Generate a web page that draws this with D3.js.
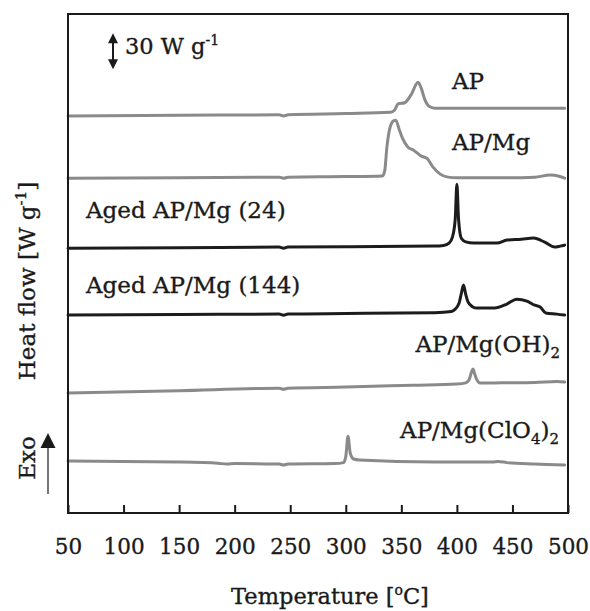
<!DOCTYPE html>
<html>
<head>
<meta charset="utf-8">
<script src="https://cdn.jsdelivr.net/npm/d3@7"></script>
<style>
  body { margin: 0; background: #fff; }
  text { font-family: "DejaVu Serif", serif; fill: #1a1a1a; stroke: #1a1a1a; stroke-width: 0.35px; }
</style>
</head>
<body>
<div id="vis"></div>
<script>
const FRAME_WIDTH = 590;
const FRAME_HEIGHT = 611;
const MARGINS = {left: 68, right: 22, top: 14, bottom: 98};

// temperature ticks
const X_TICKS = [50, 100, 150, 200, 250, 300, 350, 400, 450, 500];

// DSC curves: [temperature (oC), heat flow (W/g, stacked offset)]
const AP = [[50,331],[150,331.5],[240,332],[244,331],[248,332],[300,333],[340,334],[344,336],
  [347,341],[353,342],[359,349],[365,359],[368,354],[371,345],[375,339],[380,337.5],[420,337.5],
  [460,337.5],[497,337.5]];
const AP_MG = [[50,279],[150,279.5],[240,280],[244,279],[248,280],[300,280.5],[333,281],[335,285],
  [337,305],[340,322],[343,327],[345,327.5],[348,320],[351,312.5],[356,305],[361,302.5],[368,297.5],
  [373,295.8],[378,289],[385,282.5],[392,280],[400,279.5],[440,279.5],[470,280],[484,281.7],
  [492,280.8],[497,279.2]];
const AGED_24 = [[50,220.8],[150,221.2],[240,221.7],[244,220.8],[248,221.7],[300,222],[380,222.5],
  [388,223],[393,225],[396,230],[398.5,245],[400,274],[401.5,245],[404,229],[408,226],[415,225],
  [436,225],[445,227.5],[458,228.3],[469,229.2],[479,225.8],[488,221.7],[493,222.5],[497,223.3]];
const AGED_144 = [[50,165],[150,165.4],[240,165.8],[244,164.9],[248,165.8],[300,166.3],[380,167],
  [395,168],[398,169.5],[402,175],[404,183],[406,190],[408,182],[410,176],[414,172],[418,170.8],
  [434,170.8],[445,174.2],[454,178.3],[463,176.7],[470,173.3],[475,171.7],[480,166.7],[490,165.8],
  [497,165]];
const AP_MGOH = [[50,100],[150,102],[240,104],[244,103.2],[248,104],[300,105],[360,106.5],[400,107.5],
  [408,108.5],[411,111],[413,117],[414.5,120],[416,116],[418,111],[421,108.3],[440,108.5],
  [470,108.8],[490,109.7],[497,109.2]];
const AP_MGCLO4 = [[50,43.3],[150,42.5],[185,41.5],[193,40.8],[200,41.2],[240,40.8],[244,40],
  [248,40.8],[290,41.2],[298,42],[300,47],[302,64],[304,50],[307,45],[312,44.2],[380,42.5],
  [432,42.5],[437,43],[445,42],[470,40.8],[497,40]];

const SCALE_BAR = 30; // W/g

const SVG = d3.select("#vis").append("svg")
  .attr("width", FRAME_WIDTH)
  .attr("height", FRAME_HEIGHT);

const X_SCALE = d3.scaleLinear().domain([50, 500])
  .range([MARGINS.left, FRAME_WIDTH - MARGINS.right]);
const Y_SCALE = d3.scaleLinear().domain([0, 416])
  .range([FRAME_HEIGHT - MARGINS.bottom, MARGINS.top]);

const LINE = d3.line()
  .x(d => X_SCALE(d[0]))
  .y(d => Y_SCALE(d[1]))
  .curve(d3.curveMonotoneX);

const SERIES = [
  {data: AP, color: "#8a8a8a"},
  {data: AP_MG, color: "#8a8a8a"},
  {data: AGED_24, color: "#1c1c1c"},
  {data: AGED_144, color: "#1c1c1c"},
  {data: AP_MGOH, color: "#8a8a8a"},
  {data: AP_MGCLO4, color: "#8a8a8a"}
];

SVG.selectAll(".curve")
  .data(SERIES)
  .enter()
  .append("path")
    .attr("class", "curve")
    .attr("d", d => LINE(d.data))
    .attr("fill", "none")
    .attr("stroke", d => d.color)
    .attr("stroke-width", 3)
    .attr("stroke-linejoin", "round")
    .attr("stroke-linecap", "round");

// x axis with inward ticks
const xAxis = SVG.append("g")
  .attr("transform", "translate(0," + Y_SCALE(0) + ")")
  .call(d3.axisBottom(X_SCALE).tickValues(X_TICKS).tickSizeInner(-8).tickSizeOuter(0).tickPadding(26));
xAxis.select(".domain").remove();
xAxis.selectAll("line").attr("stroke", "#1a1a1a").attr("stroke-width", 2);
xAxis.selectAll("text")
  .attr("font-family", "DejaVu Serif")
  .attr("font-size", 21.5)
  .attr("fill", "#1a1a1a");

// frame
SVG.append("rect")
  .attr("x", X_SCALE(50)).attr("y", Y_SCALE(416))
  .attr("width", X_SCALE(500) - X_SCALE(50))
  .attr("height", Y_SCALE(0) - Y_SCALE(416))
  .attr("fill", "none")
  .attr("stroke", "#1a1a1a")
  .attr("stroke-width", 2);

// curve labels
function label(x, y, anchor, main) {
  return SVG.append("text")
    .attr("x", x).attr("y", y)
    .attr("text-anchor", anchor)
    .attr("font-size", 23)
    .text(main);
}
label(452, 89, "start", "AP");
label(452, 150, "start", "AP/Mg");
label(86, 218, "start", "Aged AP/Mg (24)");
label(86, 293, "start", "Aged AP/Mg (144)");
const ohLabel = label(560, 352, "end", "AP/Mg(OH)");
ohLabel.append("tspan").attr("font-size", 15).attr("dy", 6).text("2");
const clLabel = label(559, 438, "end", "AP/Mg(ClO");
clLabel.append("tspan").attr("font-size", 15).attr("dy", 6).text("4");
clLabel.append("tspan").attr("dy", -6).text(")");
clLabel.append("tspan").attr("font-size", 15).attr("dy", 6).text("2");

// scale bar: double arrow of 30 W/g
const barX = 113;
const barTop = Y_SCALE(400);
const barBot = barTop + (Y_SCALE(0) - Y_SCALE(SCALE_BAR));
SVG.append("line")
  .attr("x1", barX).attr("x2", barX)
  .attr("y1", barTop + 5).attr("y2", barBot - 5)
  .attr("stroke", "#1a1a1a").attr("stroke-width", 2);
SVG.append("path")
  .attr("d", `M${barX - 5},${barTop + 10}L${barX},${barTop}L${barX + 5},${barTop + 10}Z` +
             `M${barX - 5},${barBot - 10}L${barX},${barBot}L${barX + 5},${barBot - 10}Z`)
  .attr("fill", "#1a1a1a");
const sb = SVG.append("text")
  .attr("x", 125).attr("y", 54)
  .attr("font-size", 22.5)
  .text(SCALE_BAR + " W g");
sb.append("tspan").attr("font-size", 14).attr("dy", -9).text("-1");

// y axis title
const yt = SVG.append("text")
  .attr("transform", "translate(35," + 281 + ") rotate(-90)")
  .attr("text-anchor", "middle")
  .attr("font-size", 23)
  .text("Heat flow [W g");
yt.append("tspan").attr("font-size", 15).attr("dy", -9).text("-1");
yt.append("tspan").attr("dy", 9).text("]");

// Exo arrow
SVG.append("text")
  .attr("transform", "translate(35," + 458 + ") rotate(-90)")
  .attr("text-anchor", "middle")
  .attr("font-size", 23)
  .text("Exo");
SVG.append("line")
  .attr("x1", 48).attr("x2", 48)
  .attr("y1", 494).attr("y2", 445)
  .attr("stroke", "#1a1a1a").attr("stroke-width", 1.2);
SVG.append("path")
  .attr("d", "M40.5,448L48,433L55.5,448Z")
  .attr("fill", "#1a1a1a");

// x axis title
const xt = SVG.append("text")
  .attr("x", 330).attr("y", 604)
  .attr("text-anchor", "middle")
  .attr("font-size", 22.5)
  .text("Temperature [");
xt.append("tspan").attr("font-size", 14).attr("dy", -9).text("o");
xt.append("tspan").attr("dy", 9).text("C]");
</script>
</body>
</html>
